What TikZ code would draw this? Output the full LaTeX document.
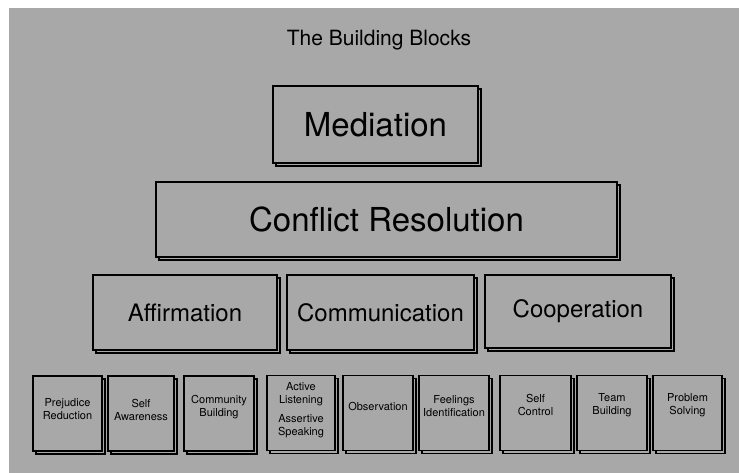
\documentclass[tikz,border=0pt]{standalone}
\usepackage{fontspec}
\setmainfont{TeX Gyre Heros}
\usetikzlibrary{shadows}
\definecolor{stipple}{gray}{0.66}
\tikzset{
  block/.style={draw=black, line width=1.1pt, fill=stipple, inner sep=0pt,
    copy shadow={shadow xshift=3pt, shadow yshift=-3pt}},
  bigtext/.style={font=\fontsize{33}{36}\selectfont},
  midtext/.style={font=\fontsize{24}{28}\selectfont},
  smallblock/.style={block, minimum height=75pt},
  smalltext/.style={align=center, font=\fontsize{11}{13}\selectfont}
}

\begin{document}
\begin{tikzpicture}[x=1pt, y=-1pt]
  \useasboundingbox (0,0) rectangle (739,473);
  \fill[stipple] (9,8) rectangle (739,473);

  \node[font=\fontsize{21}{24}\selectfont] (title) at (379,40) {The Building Blocks};

  \node[block, bigtext, minimum width=205pt, minimum height=77pt] (mediation) at (375.5,124.5) {Mediation};
  \node[block, bigtext, minimum width=461pt, minimum height=75pt] (conflict) at (386.5,219.5) {Conflict Resolution};

  \node[block, midtext, minimum width=184pt, minimum height=75pt] (affirmation) at (185,312.5) {Affirmation};
  \node[block, midtext, minimum width=187pt, minimum height=75pt] (communication) at (380.5,312.5) {Communication};
  \node[block, midtext, minimum width=186pt, minimum height=73pt] (cooperation) at (578,311.5) {Cooperation};

  \node[smallblock, minimum width=69pt] (prejudice) at (67.5,413.5) {};
  \node[smallblock, minimum width=66pt] (selfaware) at (141,413.5) {};
  \node[smallblock, minimum width=70pt] (community) at (219,413.5) {};
  \node[smallblock, minimum width=68pt] (listening) at (301,413) {};
  \node[smallblock, minimum width=70pt] (observation) at (378,413) {};
  \node[smallblock, minimum width=70pt] (feelings) at (454,413) {};
  \node[smallblock, minimum width=71pt] (selfcontrol) at (535.5,413) {};
  \node[smallblock, minimum width=70pt] (team) at (612,413) {};
  \node[smallblock, minimum width=69pt] (problem) at (687.5,413) {};

  \node[smalltext] (prejudicetext) at (prejudice) [yshift=4pt] {Prejudice\\Reduction};
  \node[smalltext] (selfawaretext) at (selfaware) [yshift=4pt] {Self\\Awareness};
  \node[smalltext] (communitytext) at (community) [yshift=6pt] {Community\\Building};
  \node[smalltext] (listeningtext) at (listening) [yshift=3pt] {Active\\Listening\\[6pt]Assertive\\Speaking};
  \node[smalltext] (observationtext) at (observation) [yshift=7pt] {Observation};
  \node[smalltext] (feelingstext) at (feelings) [yshift=7pt] {Feelings\\Identification};
  \node[smalltext] (selfcontroltext) at (selfcontrol) [yshift=8pt] {Self\\Control};
  \node[smalltext] (teamtext) at (team) [yshift=8pt] {Team\\Building};
  \node[smalltext] (problemtext) at (problem) [yshift=8pt] {Problem\\Solving};
\end{tikzpicture}
\end{document}
